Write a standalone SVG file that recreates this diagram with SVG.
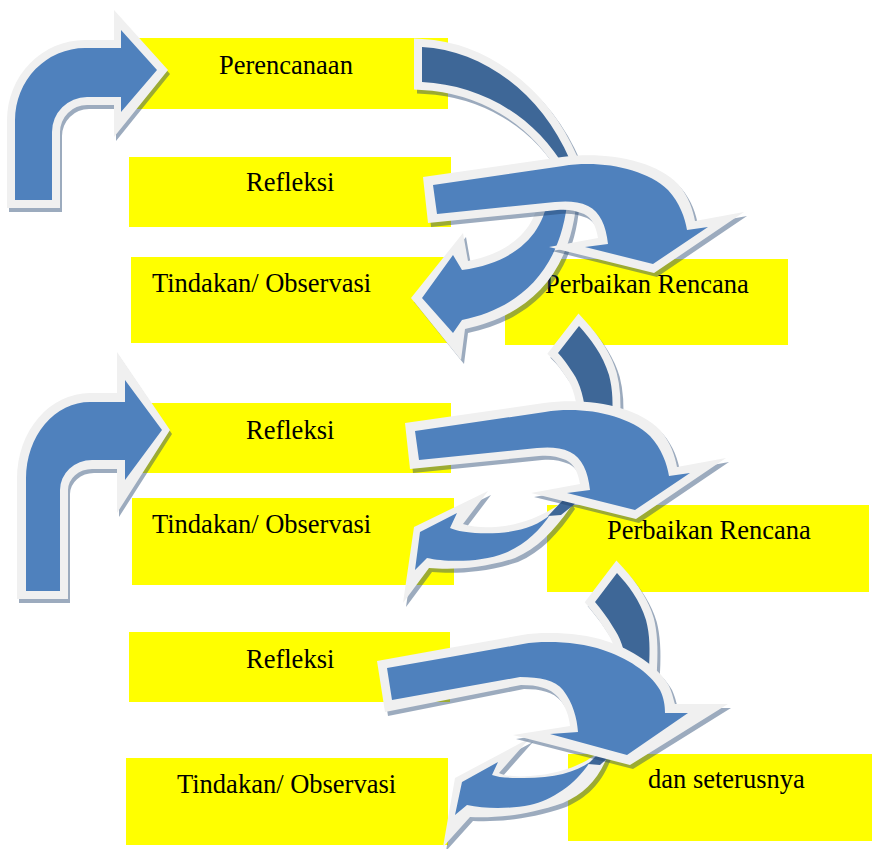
<svg xmlns="http://www.w3.org/2000/svg" xmlns:xlink="http://www.w3.org/1999/xlink" width="881" height="849" viewBox="0 0 881 849">
<style>
.box{fill:#ffff00}
.t{font-family:"Liberation Serif","Times New Roman",serif;font-size:26.5px;fill:#000}
.w{fill:#f0f0f0}
.b{fill:#4f81bd}
.d{fill:#3e6797}
.dk{fill:#3e6797;stroke:#f0f0f0;stroke-width:16;stroke-linejoin:miter;paint-order:stroke}
.sh{opacity:.45}
.sh use{fill:#24456e}
.shd{opacity:.45}
.shd use{fill:#24456e;stroke:#24456e;stroke-width:16;stroke-linejoin:miter}
</style>
<defs>
<path id="a1w" d="M7,208 L7,120 A78,80 0 0 1 85,40 L114,40 L114,10 L168,70 L114,137 L114,105 L87,105 A27,27 0 0 0 60,132 L60,208 Z"/>
<path id="a1b" d="M15,200 L15,120 A70,72 0 0 1 85,48 L121,48 L121,30 L157,70 L121,112 L121,97 L87,97 A35,35 0 0 0 52,132 L52,200 Z"/>
<path id="a5w" d="M17,599 L17,478 A73,85 0 0 1 90,393 L117,393 L117,352 L170,430 L117,513 L117,469 L92,469 A24,21 0 0 0 68,490 L68,599 Z"/>
<path id="a5b" d="M26,591 L26,478 A64,76 0 0 1 90,402 L125,402 L125,380 L162,430 L125,480 L125,460 L92,460 A32,30 0 0 0 60,490 L60,591 Z"/>
<path id="l1w" d="M423,177 L562,157 C605,151 655,160 678,184 C689,197 693,210 695,221 L744,212 L654,273 L549,247 L598,238 C596,226 592,218 584,214 C575,210 566,209 557,210 L428,223 Z"/>
<path id="l1b" d="M433,185 L563,166 C600,160 645,168 668,190 C680,203 685,218 687,230 L708,227 L653,264 L585,247 L608,244 C606,225 600,212 588,206 C578,201 566,201 555,202 L437,214 Z"/>
<path id="l5w" d="M377,661 L449,648 L522,635 C546,631 583,633 606,641 C631,649 658,666 669,686 C673,695 674,702 675,704 L728,704 L630,765 L513,735 L570,726 C569,716 566,707 558,697 C550,688 538,685 521,685 L385,712 Z"/>
<path id="l5b" d="M387,668 L450,657 L523,644 C545,640 580,642 603,650 C625,657 650,672 660,690 C664,698 665,706 665,713 L688,713 L627,755 L550,734 L578,732 C577,718 573,703 563,690 C555,680 540,677 520,677 L392,700 Z"/>
<path id="l2w" d="M539,195 C537,225 515,252 468,261 L463,233 L411,298 L461,360 L465,329 C527,316 572,276 577,195 Z"/>
<path id="l2b" d="M548,195 C545,230 520,262 462,270 L453,255 L422,298 L453,333 L462,320 C520,308 562,270 568,195 Z"/>
<path id="l4w" d="M568,498 C550,512 530,522 505,526 C490,528 475,528 463,524 L488,491 L414,527 L403,603 L429,568 C450,570 482,569 515,558 C538,548 555,530 572,505 Z"/>
<path id="l4b" d="M550,515 C535,528 510,535 475,533 C462,532 455,530 450,528 L457,513 L420,532 L415,570 L427,558 C445,562 480,563 505,553 C525,545 540,530 550,515 Z"/>
<path id="l6w" d="M604,748 C585,765 560,774 530,776 C515,777 505,776 499,773 L530,738 L455,778 L443,847 L470,817 C495,818 525,816 563,803 C585,793 598,780 608,755 Z"/>
<path id="l6b" d="M590,762 C575,773 550,779 517,778 C505,778 498,777 492,775 L498,762 L462,782 L455,815 L467,805 C485,809 510,809 530,805 C552,800 575,785 590,762 Z"/>
<path id="d1" d="M422,47 C480,50 540,90 570,160 L571,172 L566,170 C535,115 480,85 422,82 Z"/>
<path id="d2" d="M579,326 C590,338 603,355 609,375 C613,390 613,405 612,420 L586,420 C585,400 580,383 573,373 C567,364 563,358 558,353 Z"/>
<path id="d3" d="M617,573 C628,585 640,600 646,620 C650,635 650,650 649,668 L627,668 C625,650 620,637 613,627 C607,617 601,609 595,602 Z"/>
</defs>

<g id="nodes">
<g id="n-perencanaan"><rect class="box" x="129" y="38" width="319" height="71"/><text class="t" x="219" y="74">Perencanaan</text></g>
<g id="n-refleksi-1"><rect class="box" x="129" y="157" width="322" height="70"/><text class="t" x="246" y="191">Refleksi</text></g>
<g id="n-tindakan-1"><rect class="box" x="131" y="257" width="322" height="86"/><text class="t" x="152" y="292">Tindakan/ Observasi</text></g>
<g id="n-perbaikan-1"><rect class="box" x="505" y="259" width="283" height="86"/><text class="t" x="545" y="293">Perbaikan Rencana</text></g>
<g id="n-refleksi-2"><rect class="box" x="129" y="403" width="322" height="70"/><text class="t" x="246" y="439">Refleksi</text></g>
<g id="n-tindakan-2"><rect class="box" x="132" y="498" width="322" height="87"/><text class="t" x="152" y="533">Tindakan/ Observasi</text></g>
<g id="n-perbaikan-2"><rect class="box" x="547" y="505" width="322" height="87"/><text class="t" x="607" y="539">Perbaikan Rencana</text></g>
<g id="n-refleksi-3"><rect class="box" x="129" y="632" width="321" height="70"/><text class="t" x="246" y="668">Refleksi</text></g>
<g id="n-tindakan-3"><rect class="box" x="126" y="758" width="322" height="87"/><text class="t" x="177" y="793">Tindakan/ Observasi</text></g>
<g id="n-dan-seterusnya"><rect class="box" x="568" y="754" width="304" height="87"/><text class="t" x="648" y="788">dan seterusnya</text></g>
</g>

<g id="connectors">
<g id="bent-arrow-1">
<g class="sh" transform="translate(2,4)"><use xlink:href="#a1w" href="#a1w"/></g>
<use class="w" xlink:href="#a1w" href="#a1w"/><use class="b" xlink:href="#a1b" href="#a1b"/>
</g>
<g id="bent-arrow-2">
<g class="sh" transform="translate(2,4)"><use xlink:href="#a5w" href="#a5w"/></g>
<use class="w" xlink:href="#a5w" href="#a5w"/><use class="b" xlink:href="#a5b" href="#a5b"/>
</g>

<g id="curve-left-1">
<g class="shd" transform="translate(3,4)"><use xlink:href="#d1" href="#d1"/></g>
<use class="dk" xlink:href="#d1" href="#d1"/>
<g class="sh" transform="translate(3,4)"><use xlink:href="#l2w" href="#l2w"/></g>
<use class="w" xlink:href="#l2w" href="#l2w"/><use class="b" xlink:href="#l2b" href="#l2b"/>
</g>
<g id="curve-down-1">
<g class="sh" transform="translate(3,4)"><use xlink:href="#l1w" href="#l1w"/></g>
<use class="w" xlink:href="#l1w" href="#l1w"/><use class="b" xlink:href="#l1b" href="#l1b"/>
</g>

<g id="curve-left-2">
<g class="shd" transform="translate(3,4)"><use xlink:href="#d2" href="#d2"/></g>
<use class="dk" xlink:href="#d2" href="#d2"/>
<g class="sh" transform="translate(3,4)"><use xlink:href="#l4w" href="#l4w"/></g>
<use class="w" xlink:href="#l4w" href="#l4w"/>
<path class="d" d="M548,516 L563,500 L576,503 L561,515 Z"/>
<use class="b" xlink:href="#l4b" href="#l4b"/>
</g>
<g id="curve-down-2" transform="translate(-18,246)">
<g class="sh" transform="translate(3,4)"><use xlink:href="#l1w" href="#l1w"/></g>
<use class="w" xlink:href="#l1w" href="#l1w"/><use class="b" xlink:href="#l1b" href="#l1b"/>
</g>

<g id="curve-left-3">
<g class="shd" transform="translate(3,4)"><use xlink:href="#d3" href="#d3"/></g>
<use class="dk" xlink:href="#d3" href="#d3"/>
<g class="sh" transform="translate(3,4)"><use xlink:href="#l6w" href="#l6w"/></g>
<use class="w" xlink:href="#l6w" href="#l6w"/>
<path class="d" d="M588,764 L602,750 L612,754 L600,765 Z"/>
<use class="b" xlink:href="#l6b" href="#l6b"/>
</g>
<g id="curve-down-3">
<g class="sh" transform="translate(3,4)"><use xlink:href="#l5w" href="#l5w"/></g>
<use class="w" xlink:href="#l5w" href="#l5w"/><use class="b" xlink:href="#l5b" href="#l5b"/>
</g>
</g>
</svg>
